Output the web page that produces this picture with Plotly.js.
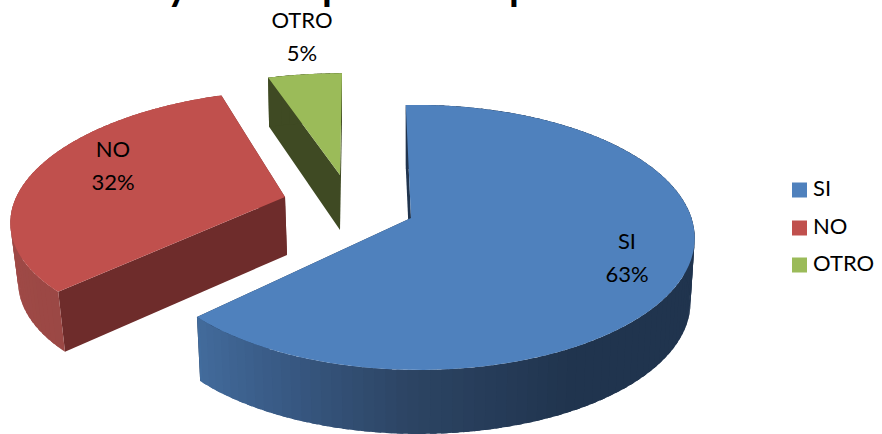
<!DOCTYPE html>
<html>
<head>
<meta charset="utf-8">
<script src="https://cdn.plot.ly/plotly-3.0.1.min.js"></script>
<style>html,body{margin:0;padding:0;background:#fff;overflow:hidden}#chart{width:882px;height:434px}</style>
</head>
<body>
<div id="chart"></div>
<script>
// Survey answers
const categories = ['SI', 'NO', 'OTRO'];
const shares = [63, 32, 5];

const topColors = ['#4F81BD', '#C0504D', '#9BBB59'];
const faceColors = ['#20344E', '#6E2C2B', '#3F4A23'];

// Perspective of each exploded wedge: apex, in-plane matrix, vanishing terms, extrusion
const views = [
  {cx: 411, cy: 218, a: 274, b: 6, c: -2.5, d: 129.6, p: 0.147, q: 0.02, dx: 0, depth: 64, kx: 0.985, ky: 1},
  {cx: 285, cy: 197, a: 270, b: -12, c: -3, d: 122, p: 0.14, q: 0, dx: 2, depth: 58, kx: 0.979, ky: 1.02},
  {cx: 340, cy: 175, a: 273, b: -2.3, c: 0, d: 117, p: 0.15, q: 0, dx: 0, depth: 55, kx: 0.986, ky: 1.06}
];

// Rim shading: clockwise angle from 12 o'clock to colour
const rimStops = [
  [[0, '#20344E'], [150, '#20344E'], [180, '#2C4463'], [205, '#395A85'], [227, '#436D9E']],
  [[226, '#9B4845'], [300, '#A64C48']],
  [[342, '#3F4A23'], [360, '#3F4A23']]
];

const labelFont = 'Lato, Carlito, Calibri, sans-serif';
const labelSize = 22;
const labelX = [627, 113, 302];
const nameY = [243.5, 151, 22.5];
const shareY = [276, 184, 55];
const legendX = 799.5;
const legendTextX = 813;
const legendY = [190, 228, 265];
const headingGlyphs = ['y', 'p', 'p'];
const headingX = [178, 333, 520];
const headingShift = -10;

function project(v, deg, lower) {
  const t = deg * Math.PI / 180;
  const u = Math.sin(t), w = -Math.cos(t);
  const den = 1 - v.p * w - v.q * u;
  const X = (v.a * u + v.b * w) / den;
  const Y = (v.c * u + v.d * w) / den;
  return lower
    ? [v.cx + v.dx + X * v.kx, v.cy + v.depth + Y * v.ky]
    : [v.cx + X, v.cy + Y];
}
function apex(v, lower) {
  return lower ? [v.cx + v.dx, v.cy + v.depth] : [v.cx, v.cy];
}
function hex(c) { return [1, 3, 5].map(i => parseInt(c.substr(i, 2), 16)); }
function rimColor(stops, deg) {
  for (let i = 1; i < stops.length; i++) {
    if (deg <= stops[i][0]) {
      const f = (deg - stops[i - 1][0]) / (stops[i][0] - stops[i - 1][0]);
      const A = hex(stops[i - 1][1]), B = hex(stops[i][1]);
      return 'rgb(' + A.map((x, k) => Math.round(x + (B[k] - x) * Math.max(0, f))).join(',') + ')';
    }
  }
  return stops[stops.length - 1][1];
}
function polygon(points, color) {
  return {
    type: 'scatter', mode: 'none', fill: 'toself', fillcolor: color,
    x: points.map(p => p[0]), y: points.map(p => p[1]),
    hoverinfo: 'skip', showlegend: false
  };
}

const total = shares.reduce((s, x) => s + x, 0);
const traces = [];
let start = 0;
const spans = shares.map(s => { const r = [start, start + s / total * 360]; start = r[1]; return r; });

// Back to front: red, blue, then green
[1, 0, 2].forEach(i => {
  const v = views[i], [a0, a1] = spans[i];
  [a1, a0].forEach(edge => {
    traces.push(polygon([apex(v), project(v, edge), project(v, edge, true), apex(v, true)], faceColors[i]));
  });
  // Rim bands overlap the next band so no seam shows between them
  const step = (a1 - a0) / Math.max(1, Math.round((a1 - a0) / 2));
  for (let d = a1 - step; d > a0 - step / 2; d -= step) {
    const lo = Math.max(a0, d), hi = Math.min(a1, d + step * 1.6);
    const band = [];
    for (let s = 0; s <= 4; s++) band.push(project(v, lo + (hi - lo) * s / 4));
    for (let s = 4; s >= 0; s--) band.push(project(v, lo + (hi - lo) * s / 4, true));
    traces.push(polygon(band, rimColor(rimStops[i], d + step / 2)));
  }
  const rim = [apex(v)];
  for (let d = a0; d <= a1 + 1e-6; d += (a1 - a0) / 90) rim.push(project(v, d));
  rim.push(apex(v));
  traces.push(polygon(rim, topColors[i]));
});

const textFont = {family: labelFont, size: labelSize, color: '#000'};
traces.push({type: 'scatter', mode: 'text', x: labelX, y: nameY, text: categories,
  textposition: 'middle center', textfont: textFont, hoverinfo: 'skip', showlegend: false, cliponaxis: false});
traces.push({type: 'scatter', mode: 'text', x: labelX, y: shareY, text: shares.map(s => s + '%'),
  textposition: 'middle center', textfont: textFont, hoverinfo: 'skip', showlegend: false, cliponaxis: false});

// Key on the right
traces.push({type: 'scatter', mode: 'markers', x: categories.map(() => legendX), y: legendY,
  marker: {symbol: 'square', size: 15, color: topColors}, hoverinfo: 'skip', showlegend: false});
traces.push({type: 'scatter', mode: 'text', x: categories.map(() => legendTextX), y: legendY, text: categories,
  textposition: 'middle right', textfont: textFont, hoverinfo: 'skip', showlegend: false, cliponaxis: false});

// Heading runs off the top edge of the page
const headingNotes = headingGlyphs.map((g, i) => ({
  text: '<b>' + g + '</b>', x: headingX[i], xref: 'x', y: 1, yref: 'paper',
  yanchor: 'bottom', xanchor: 'center', yshift: headingShift, showarrow: false, borderpad: 0,
  font: {family: labelFont, size: 40, color: '#000'}
}));

const hidden = {visible: false, fixedrange: true};
Plotly.newPlot('chart', traces, {
  width: 882, height: 434,
  margin: {l: 0, r: 0, t: 0, b: 0},
  paper_bgcolor: '#fff', plot_bgcolor: '#fff',
  showlegend: false,
  annotations: headingNotes,
  xaxis: Object.assign({range: [0, 882]}, hidden),
  yaxis: Object.assign({range: [434, 0]}, hidden)
}, {displayModeBar: false, staticPlot: true});
</script>
</body>
</html>
